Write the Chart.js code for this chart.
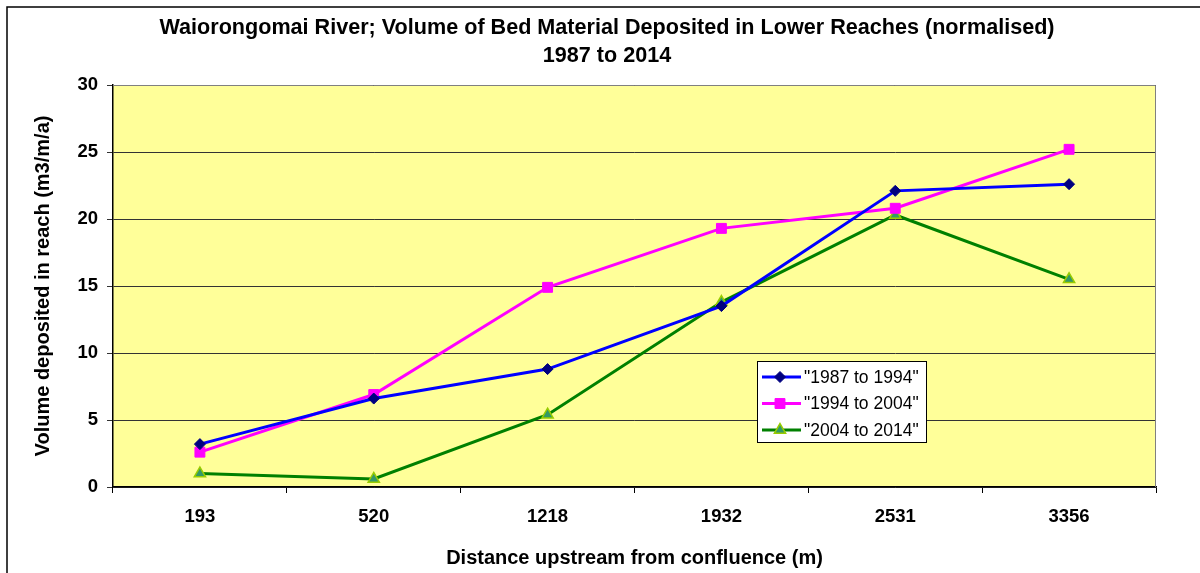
<!DOCTYPE html>
<html>
<head>
<meta charset="utf-8">
<script src="https://cdn.jsdelivr.net/npm/chart.js@4"></script>
<style>
  html, body { margin: 0; padding: 0; background: #fff; }
  #wrap { width: 1200px; height: 573px; position: relative; }
</style>
</head>
<body>
<div id="wrap"><canvas id="chart" width="1200" height="573"></canvas></div>
<script>
  const distances = ['193', '520', '1218', '1932', '2531', '3356'];
  const vol87to94 = [3.2, 6.6, 8.8, 13.5, 22.1, 22.6];
  const vol94to04 = [2.6, 6.9, 14.9, 19.3, 20.8, 25.2];
  const vol04to14 = [1.0, 0.6, 5.4, 13.8, 20.3, 15.5];
  const yTicks = [0, 5, 10, 15, 20, 25, 30];
  const titleLines = ['Waiorongomai River; Volume of Bed Material Deposited in Lower Reaches (normalised)', '1987 to 2014'];

  const FONT = 'Arial, "Liberation Sans", sans-serif';
  Chart.defaults.font.family = FONT;
  Chart.defaults.color = '#000';

  // yellow plot background, grey frame on top/right, outer border, title
  const frame = {
    id: 'frame',
    beforeDraw(chart) {
      const { ctx, chartArea: a } = chart;
      ctx.save();
      ctx.fillStyle = '#FFFF99';
      ctx.fillRect(a.left, a.top, a.right - a.left, a.bottom - a.top);
      ctx.strokeStyle = '#000';
      ctx.lineWidth = 1.5;
      ctx.beginPath();
      ctx.moveTo(7, 573); ctx.lineTo(7, 7); ctx.lineTo(1200, 7);
      ctx.stroke();
      ctx.fillStyle = '#000';
      ctx.font = 'bold 21.6px ' + FONT;
      ctx.textAlign = 'center';
      ctx.textBaseline = 'middle';
      ctx.fillText(titleLines[0], 607, 28);
      ctx.fillText(titleLines[1], 607, 56);
      ctx.restore();
    },
    beforeDatasetsDraw(chart) {
      const { ctx, chartArea: a } = chart;
      ctx.save();
      ctx.strokeStyle = '#808080';
      ctx.lineWidth = 1;
      ctx.beginPath();
      ctx.moveTo(a.left, a.top + 0.5); ctx.lineTo(a.right - 0.5, a.top + 0.5); ctx.lineTo(a.right - 0.5, a.bottom);
      ctx.stroke();
      ctx.restore();
    }
  };

  // legend box inside the plot, like the original
  const boxLegend = {
    id: 'boxLegend',
    afterDraw(chart) {
      const { ctx } = chart;
      const x = 757, y = 361, w = 169, h = 81;
      ctx.save();
      ctx.fillStyle = '#fff';
      ctx.fillRect(x, y, w, h);
      ctx.strokeStyle = '#000';
      ctx.lineWidth = 1;
      ctx.strokeRect(x + 0.5, y + 0.5, w, h);
      ctx.font = '17.5px ' + FONT;
      ctx.textBaseline = 'middle';
      chart.data.datasets.forEach((ds, i) => {
        const cy = y + 16 + i * 26.5;
        ctx.strokeStyle = ds.borderColor;
        ctx.lineWidth = 3;
        ctx.beginPath();
        ctx.moveTo(x + 5, cy); ctx.lineTo(x + 44, cy);
        ctx.stroke();
        ctx.fillStyle = ds.pointBackgroundColor;
        ctx.strokeStyle = ds.pointBorderColor;
        ctx.lineWidth = ds.pointBorderWidth;
        Chart.helpers.drawPoint(ctx, { pointStyle: ds.pointStyle, radius: ds.pointRadius, borderWidth: ds.pointBorderWidth }, x + 23, cy);
        ctx.fillStyle = '#000';
        ctx.fillText(ds.label, x + 47, cy + 1);
      });
      ctx.restore();
    }
  };

  new Chart(document.getElementById('chart'), {
    type: 'line',
    data: {
      labels: distances,
      datasets: [
        {
          label: '"1987 to 1994"', data: vol87to94,
          borderColor: '#0000FF', borderWidth: 3,
          pointStyle: 'rectRot', pointRadius: 5.5, pointBorderWidth: 1,
          pointBackgroundColor: '#000080', pointBorderColor: '#000080'
        },
        {
          label: '"1994 to 2004"', data: vol94to04,
          borderColor: '#FF00FF', borderWidth: 3,
          pointStyle: 'rect', pointRadius: 7, pointBorderWidth: 1,
          pointBackgroundColor: '#FF00FF', pointBorderColor: '#FF00FF'
        },
        {
          label: '"2004 to 2014"', data: vol04to14,
          borderColor: '#008000', borderWidth: 3,
          pointStyle: 'triangle', pointRadius: 6.5, pointBorderWidth: 1.5,
          pointBackgroundColor: '#339966', pointBorderColor: '#99CC00'
        }
      ]
    },
    options: {
      responsive: false,
      animation: false,
      layout: { padding: { left: 8, right: 44, top: 85, bottom: 0 } },
      plugins: {
        legend: { display: false },
        title: { display: false },
        tooltip: { enabled: false }
      },
      scales: {
        x: {
          offset: true,
          afterFit: s => { s.height = 86; },
          grid: { display: true, drawOnChartArea: false, drawTicks: true, tickLength: 6, color: '#000', offset: true },
          border: { display: true, color: '#000', width: 1.5 },
          ticks: { font: { size: 18.5, weight: 'bold' }, padding: 13, color: '#000' },
          title: {
            display: true, text: 'Distance upstream from confluence (m)',
            font: { size: 20, weight: 'bold' }, padding: { top: 0, bottom: 3 }, color: '#000'
          }
        },
        y: {
          min: 0, max: 30,
          afterFit: s => { s.width = 105; },
          afterBuildTicks: s => { s.ticks = yTicks.map(v => ({ value: v })); },
          grid: { color: '#333', lineWidth: 1, tickLength: 6, drawTicks: true },
          border: { display: true, color: '#000', width: 1.5 },
          ticks: { font: { size: 18.5, weight: 'bold' }, padding: 9, color: '#000' },
          title: {
            display: true, text: 'Volume deposited in reach (m3/m/a)',
            font: { size: 20, weight: 'bold' }, padding: { top: 23, bottom: 0 }, color: '#000'
          }
        }
      }
    },
    plugins: [frame, boxLegend]
  });
</script>
</body>
</html>
